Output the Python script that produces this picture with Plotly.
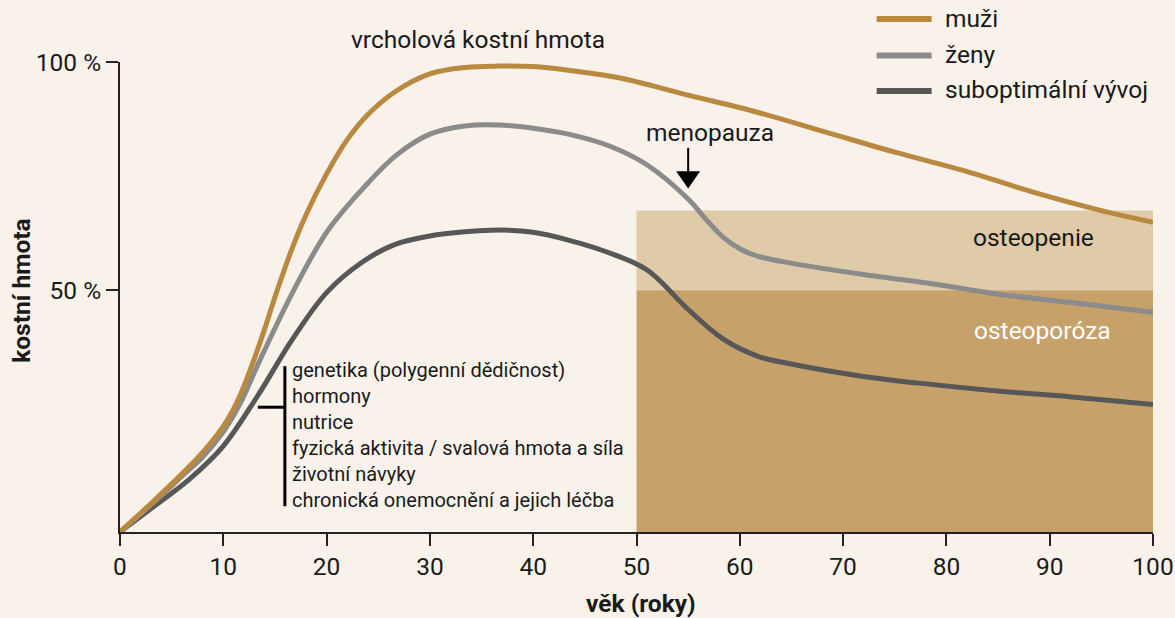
import plotly.graph_objects as go

# ---------------- data ----------------
age_men = [0, 3, 6, 8, 10, 11, 12, 13, 14, 15, 16.5, 18, 20, 22, 24, 26.7, 30, 33.4, 36.7, 40, 43.4,
           48.4, 55.1, 61.7, 68.4, 75.1, 81.7, 88.4, 95.1, 100]
mass_men = [-2.9, 3.3, 9.8, 14.5, 20.2, 24.0, 29.0, 35.0, 41.5, 48.5, 58.2, 66.5, 75.5, 83.0, 88.5, 93.6, 97.4, 98.8, 99.1, 99.0, 98.2,
            96.5, 92.7, 89.0, 84.6, 80.2, 76.2, 71.5, 67.4, 64.9]

age_women = [0, 3, 6, 8, 10, 11.7, 13.3, 16.7, 20, 23.4, 26.7, 30, 33.4, 36.7, 40, 43.4,
             47.5, 51, 55, 56.7, 58.4, 60.1, 61.7, 65.1, 71.8, 78.5, 85.2, 91.9, 100]
mass_women = [-2.9, 3.0, 9.3, 13.5, 19.0, 25.5, 33.5, 49.5, 62.7, 72.0, 79.5, 84.2, 86.0, 86.2, 85.5, 84.2,
              81.5, 77.5, 70.0, 65.6, 61.6, 59.0, 57.5, 55.9, 53.5, 51.5, 49.1, 47.4, 45.2]

age_sub = [0, 3.3, 6.7, 10, 13.3, 16.7, 20, 23.4, 26.7, 30, 33.4, 36.7, 40, 43.4, 47,
           51, 55, 58.4, 61.7, 65.1, 71.8, 78.5, 85.2, 91.9, 100]
mass_sub = [-2.9, 2.7, 8.6, 15.9, 26.8, 39.3, 49.5, 56.1, 60.1, 61.9, 62.8, 63.2, 62.7, 61.0, 58.5,
            54.5, 45.8, 39.3, 35.6, 33.8, 31.2, 29.4, 27.9, 26.7, 25.0]

series_names = ["muži", "ženy", "suboptimální vývoj"]
series_colors = ["#b8893e", "#8b8b8b", "#575757"]

band_age = [50, 100]
osteopenia_band = [50, 67.5]
osteoporosis_band = [-2.93, 50]

x_tick_vals = list(range(0, 101, 10))
y_tick_vals = [50, 100]
y_tick_text = ["50 %", "100 %"]

factors = ["genetika (polygenní dědičnost)", "hormony", "nutrice",
           "fyzická aktivita / svalová hmota a síla", "životní návyky",
           "chronická onemocnění a jejich léčba"]

menopause_age = 55

# ---------------- layout helpers ----------------
BG = "#f8f2eb"
TXT = "#1a1a1a"
FONT = "Roboto"
FS = 24.5
L, R, T, B = 120, 21.5, 62, 85.5
W, H = 1175, 618
PW, PH = W - L - R, H - T - B


def pxx(x):
    return (x - L) / PW


def pxy(y):
    return (H - B - y) / PH


fig = go.Figure()

# curves (suboptimal first so gold sits on top)
for xs, ys, name, col in [(age_sub, mass_sub, series_names[2], series_colors[2]),
                          (age_women, mass_women, series_names[1], series_colors[1]),
                          (age_men, mass_men, series_names[0], series_colors[0])]:
    fig.add_trace(go.Scatter(x=xs, y=ys, mode="lines", name=name, showlegend=False,
                             hoverinfo="skip",
                             line=dict(color=col, width=5, shape="spline", smoothing=1)))

shapes = []
# bands
shapes.append(dict(type="rect", xref="x", yref="y", x0=band_age[0], x1=band_age[1],
                   y0=osteopenia_band[0], y1=osteopenia_band[1],
                   fillcolor="#e0cba9", line=dict(width=0), layer="below"))
shapes.append(dict(type="rect", xref="x", yref="y", x0=band_age[0], x1=band_age[1],
                   y0=osteoporosis_band[0], y1=osteoporosis_band[1],
                   fillcolor="#c6a16a", line=dict(width=0), layer="below"))

# menopause arrow
shapes.append(dict(type="line", xref="x", yref="y", x0=menopause_age, x1=menopause_age,
                   y0=81.2, y1=75.5, line=dict(color="#000", width=2)))
shapes.append(dict(type="path", xref="x", yref="y",
                   path=f"M {menopause_age-1.16},76.1 L {menopause_age+1.16},76.1 L {menopause_age},72.3 Z",
                   fillcolor="#000", line=dict(width=0)))

# factor bracket
shapes.append(dict(type="line", xref="x", yref="y", x0=15.96, x1=15.96, y0=33.4, y1=2.7,
                   line=dict(color="#000", width=3)))
shapes.append(dict(type="line", xref="x", yref="y", x0=13.35, x1=15.96, y0=24.4, y1=24.4,
                   line=dict(color="#000", width=3)))

# legend swatches
leg_y = [19, 55.5, 91]
for yy, col in zip(leg_y, series_colors):
    shapes.append(dict(type="line", xref="paper", yref="paper", x0=pxx(877), x1=pxx(932),
                       y0=pxy(yy), y1=pxy(yy), line=dict(color=col, width=6)))

ann = []
for yy, name in zip(leg_y, series_names):
    ann.append(dict(text=name, xref="paper", yref="paper", x=pxx(943), y=pxy(yy - 1),
                    xanchor="left", yanchor="middle", showarrow=False,
                    font=dict(family=FONT, size=FS, color=TXT)))

ann.append(dict(text="vrcholová kostní hmota", xref="paper", yref="paper",
                x=pxx(478.5), y=pxy(39), xanchor="center", yanchor="middle", showarrow=False,
                font=dict(family=FONT, size=FS, color=TXT)))
ann.append(dict(text="menopauza", xref="x", yref="y", x=57.1, y=84.6,
                xanchor="center", yanchor="middle", showarrow=False,
                font=dict(family=FONT, size=FS, color=TXT)))
ann.append(dict(text="osteopenie", xref="x", yref="y", x=88.4, y=61.5,
                xanchor="center", yanchor="middle", showarrow=False,
                font=dict(family=FONT, size=FS, color=TXT)))
ann.append(dict(text="osteoporóza", xref="x", yref="y", x=89.3, y=41.3,
                xanchor="center", yanchor="middle", showarrow=False,
                font=dict(family=FONT, size=FS, color="#ffffff")))
ann.append(dict(text="<br>".join(factors), xref="x", yref="y", x=16.5, y=18.4,
                xanchor="left", yanchor="middle", align="left", showarrow=False,
                font=dict(family=FONT, size=20, color=TXT)))
# axis titles
ann.append(dict(text="věk (roky)", xref="paper", yref="paper", x=pxx(641), y=pxy(604),
                xanchor="center", yanchor="middle", showarrow=False,
                font=dict(family=FONT, size=FS, color=TXT, weight="bold")))
ann.append(dict(text="kostní hmota", xref="paper", yref="paper", x=pxx(22), y=pxy(291),
                xanchor="center", yanchor="middle", showarrow=False, textangle=-90,
                font=dict(family=FONT, size=FS, color=TXT, weight="bold")))

fig.update_layout(
    width=W, height=H, autosize=False,
    margin=dict(l=L, r=R, t=T, b=B, pad=0, autoexpand=False),
    paper_bgcolor=BG, plot_bgcolor=BG,
    showlegend=False,
    shapes=shapes, annotations=ann,
    font=dict(family=FONT, color=TXT),
)
fig.update_xaxes(range=[0, 100], tickvals=x_tick_vals, showgrid=False, zeroline=False,
                 automargin=False,
                 showline=True, linecolor="#222", linewidth=2,
                 ticks="outside", ticklen=12, tickwidth=2, tickcolor="#222",
                 tickfont=dict(family=FONT, size=FS, color=TXT))
fig.update_yaxes(range=[osteoporosis_band[0], 100], tickvals=y_tick_vals, ticktext=y_tick_text,
                 showgrid=False, zeroline=False, automargin=False,
                 showline=True, linecolor="#222", linewidth=2,
                 ticks="outside", ticklen=12, tickwidth=2, tickcolor="#222",
                 tickfont=dict(family=FONT, size=FS, color=TXT))

fig.write_html("out.html", config={"displayModeBar": False},
               post_script="document.body.style.margin='0px';"
                           "document.body.style.overflow='hidden';"
                           "document.body.style.background='" + BG + "';")
